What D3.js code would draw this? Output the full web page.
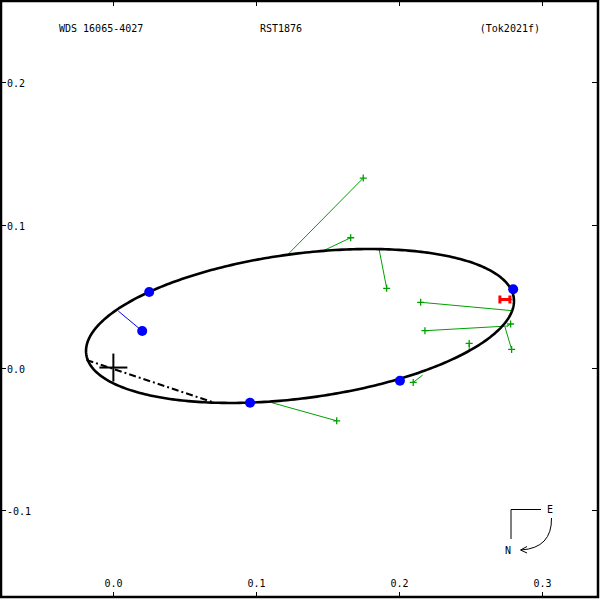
<!DOCTYPE html>
<html><head><meta charset="utf-8">
<script src="https://cdn.jsdelivr.net/npm/d3@7/dist/d3.min.js"></script>
<style>
html,body{margin:0;padding:0;background:#fff;}
svg text{font-family:"DejaVu Sans Mono",monospace;font-size:10px;fill:#000;}
</style></head>
<body>
<svg id="chart" width="600" height="600"></svg>
<script>
// ---- data ----
const titleLeft = "WDS 16065-4027";
const titleMid = "RST1876";
const titleRight = "(Tok2021f)";
const xDomain = [-0.0794, 0.3394];
const yDomain = [-0.1614, 0.2574];
const xTicks = [0.0, 0.1, 0.2, 0.3];
const yTicks = [-0.1, 0.0, 0.1, 0.2];
const xTickLabels = ["0.0", "0.1", "0.2", "0.3"];
const yTickLabels = ["-0.1", "0.0", "0.1", "0.2"];
// apparent orbit ellipse: center x, center y, semi-major, semi-minor, tilt (deg)
const orbitCenter = [0.1307, 0.0291];
const orbitAxes = [0.1510, 0.0506];
const orbitTilt = 7.5;
// line of nodes endpoints
const nodeLine = [[-0.0188, 0.0053], [0.0688, -0.0240]];
// micrometric / speckle observations (green): observed, predicted
const greenObs = [[0.1750, 0.1327], [0.1662, 0.0909], [0.1914, 0.0555], [0.2152, 0.0457], [0.2182, 0.0258], [0.2782, 0.0305], [0.2789, 0.0127], [0.2492, 0.0169], [0.2100, -0.0104], [0.1564, -0.0373]];
const greenPred = [[0.1218, 0.0788], [0.1470, 0.0818], [0.1862, 0.0823], [0.2796, 0.0398], [0.2765, 0.0291], [0.2758, 0.0289], [0.2742, 0.0286], [0.2492, 0.0111], [0.2166, -0.0053], [0.1109, -0.0246]];
// interferometric obs on orbit (blue)
const blueObs = [[0.0251, 0.0529], [0.0957, -0.0247], [0.2007, -0.0092], [0.2800, 0.0548], [0.0202, 0.0256]];
const bluePred = [[0.0251, 0.0529], [0.0957, -0.0247], [0.2007, -0.0092], [0.2800, 0.0548], [0.0034, 0.0396]];
// red H marker
const redObs = [[0.2742, 0.0477]];
const redPred = [[0.2796, 0.0477]];

// ---- drawing ----
const W = 600, H = 600;
const svg = d3.select("#chart");
const x = d3.scaleLinear().domain(xDomain).range([0, 598]);
const y = d3.scaleLinear().domain(yDomain).range([598, 0]);
const green = "#00a000";

// frame
svg.append("rect").attr("x", 1).attr("y", 1).attr("width", 597).attr("height", 596)
  .attr("fill", "none").attr("stroke", "#000").attr("stroke-width", 2.5);

// ticks
const tl = 6;
xTicks.forEach((t, i) => {
  const px = Math.round(x(t)) + 0.5;
  svg.append("line").attr("x1", px).attr("x2", px).attr("y1", 0).attr("y2", tl).attr("stroke", "#000");
  svg.append("line").attr("x1", px).attr("x2", px).attr("y1", 598 - tl).attr("y2", 598).attr("stroke", "#000");
  svg.append("text").attr("x", px).attr("y", 587).attr("text-anchor", "middle").text(xTickLabels[i]);
});
yTicks.forEach((t, i) => {
  const py = Math.round(y(t)) + 0.5;
  svg.append("line").attr("x1", 0).attr("x2", tl).attr("y1", py).attr("y2", py).attr("stroke", "#000");
  svg.append("line").attr("x1", 598 - tl).attr("x2", 598).attr("y1", py).attr("y2", py).attr("stroke", "#000");
  svg.append("text").attr("x", 7).attr("y", py + 4).attr("text-anchor", "start").text(yTickLabels[i]);
});

// titles
svg.append("text").attr("x", 59).attr("y", 32).attr("text-anchor", "start").text(titleLeft);
svg.append("text").attr("x", 281).attr("y", 32).attr("text-anchor", "middle").text(titleMid);
svg.append("text").attr("x", 540).attr("y", 32).attr("text-anchor", "end").text(titleRight);

// green O-C lines
greenObs.forEach((o, i) => {
  svg.append("line").attr("x1", x(greenPred[i][0])).attr("y1", y(greenPred[i][1]))
    .attr("x2", x(o[0])).attr("y2", y(o[1])).attr("stroke", green).attr("stroke-width", 1);
});
// blue O-C line
blueObs.forEach((o, i) => {
  svg.append("line").attr("x1", x(bluePred[i][0])).attr("y1", y(bluePred[i][1]))
    .attr("x2", x(o[0])).attr("y2", y(o[1])).attr("stroke", "#0000ff").attr("stroke-width", 1);
});

// orbit ellipse
const th = orbitTilt * Math.PI / 180;
const pts = d3.range(0, 361).map(d => {
  const t = d * Math.PI / 180;
  const u = orbitAxes[0] * Math.cos(t), v = orbitAxes[1] * Math.sin(t);
  return [orbitCenter[0] + u * Math.cos(th) - v * Math.sin(th), orbitCenter[1] + u * Math.sin(th) + v * Math.cos(th)];
});
svg.append("path").attr("d", d3.line().x(d => x(d[0])).y(d => y(d[1]))(pts))
  .attr("fill", "none").attr("stroke", "#000").attr("stroke-width", 2.6);

// line of nodes
svg.append("path").attr("d", d3.line().x(d => x(d[0])).y(d => y(d[1]))(nodeLine))
  .attr("fill", "none").attr("stroke", "#000").attr("stroke-width", 2).attr("stroke-dasharray", "7,3,2,3");

// primary cross
const c = 0.0098;
svg.append("line").attr("x1", x(-c)).attr("x2", x(c)).attr("y1", y(0)).attr("y2", y(0)).attr("stroke", "#000").attr("stroke-width", 2);
svg.append("line").attr("x1", x(0)).attr("x2", x(0)).attr("y1", y(c)).attr("y2", y(-c)).attr("stroke", "#000").attr("stroke-width", 2);

// green plus markers
greenObs.forEach(o => {
  const px = x(o[0]), py = y(o[1]);
  svg.append("path").attr("d", `M${px - 3.5},${py}H${px + 3.5}M${px},${py - 3.5}V${py + 3.5}`)
    .attr("stroke", green).attr("stroke-width", 1.3).attr("fill", "none");
});

// red H marker and line
redObs.forEach((o, i) => {
  const px = x(o[0]), py = y(o[1]);
  svg.append("line").attr("x1", px).attr("x2", x(redPred[i][0])).attr("y1", py).attr("y2", y(redPred[i][1])).attr("stroke", "#ff0000").attr("stroke-width", 1);
  svg.append("path").attr("d", `M${px - 5},${py - 4}V${py + 4}M${px + 5},${py - 4}V${py + 4}M${px - 5},${py}H${px + 5}`)
    .attr("stroke", "#ff0000").attr("stroke-width", 3).attr("fill", "none");
});

// blue dots
svg.selectAll("circle.blue").data(blueObs).enter().append("circle")
  .attr("cx", d => x(d[0])).attr("cy", d => y(d[1])).attr("r", 5).attr("fill", "#0000ff");

// compass
const cg = svg.append("g");
cg.append("path").attr("d", "M541,509.5H511V539").attr("fill", "none").attr("stroke", "#000").attr("stroke-width", 1);
cg.append("text").attr("x", 550).attr("y", 513).attr("text-anchor", "middle").text("E");
cg.append("text").attr("x", 508).attr("y", 554).attr("text-anchor", "middle").text("N");
cg.append("path").attr("d", "M551.5,518 Q552,548 521,550").attr("fill", "none").attr("stroke", "#000").attr("stroke-width", 1);
cg.append("path").attr("d", "M527,546.5 L520.5,550 L527,553").attr("fill", "none").attr("stroke", "#000").attr("stroke-width", 1);
</script>
</body></html>
